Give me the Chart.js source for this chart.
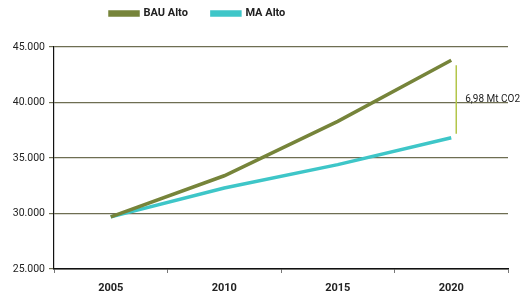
<!DOCTYPE html>
<html>
<head>
<meta charset="utf-8">
<script src="https://cdn.jsdelivr.net/npm/chart.js@4/dist/chart.umd.min.js"></script>
<style>
  html, body { margin: 0; padding: 0; background: #fff; }
  #wrap { width: 527px; height: 297px; }
</style>
</head>
<body>
<div id="wrap"><canvas id="c"></canvas></div>
<script>
const years = ['2005', '2010', '2015', '2020'];
const bauAlto = [29700, 33400, 38300, 43800];
const maAlto = [29700, 32300, 34400, 36820];
const gapLabel = '6,98 Mt CO2';

const olive = '#76843a';
const cyan = '#3ec6c8';

// bracket between the two 2020 values
const gapMarker = {
    id: 'gapMarker',
    afterDatasetsDraw(chart) {
        const { ctx, scales } = chart;
        const last = years.length - 1;
        const x = scales.x.getPixelForValue(last) + 5;
        const yTop = scales.y.getPixelForValue(bauAlto[last]) + 5;
        const yBot = scales.y.getPixelForValue(maAlto[last]) - 4;
        ctx.save();
        ctx.strokeStyle = '#b3c64a';
        ctx.lineWidth = 1.5;
        ctx.beginPath();
        ctx.moveTo(x, yTop);
        ctx.lineTo(x, yBot);
        ctx.stroke();
        ctx.fillStyle = '#222';
        ctx.font = '10px Roboto';
        ctx.textBaseline = 'middle';
        ctx.fillText(gapLabel, x + 9, (yTop + yBot) / 2);
        ctx.restore();
    }
};

// legend sits left of centre and leaves a gap above the plot
const legendTweak = {
    id: 'legendTweak',
    afterInit(chart) {
        const lg = chart.legend;
        const fit = lg.fit;
        lg.fit = function () {
            fit.call(this);
            this.height = 47;
        };
    },
    afterLayout(chart) {
        chart.legend.left = 86;
        chart.legend.top = -16;
    }
};

new Chart(document.getElementById('c'), {
    type: 'line',
    data: {
        labels: years,
        datasets: [
            {
                label: 'BAU Alto',
                data: bauAlto,
                borderColor: olive,
                backgroundColor: olive,
                borderWidth: 3.5,
                pointRadius: 0,
                tension: 0
            },
            {
                label: 'MA Alto',
                data: maAlto,
                borderColor: cyan,
                backgroundColor: cyan,
                borderWidth: 3.5,
                pointRadius: 0,
                tension: 0
            }
        ]
    },
    plugins: [gapMarker, legendTweak],
    options: {
        responsive: true,
        maintainAspectRatio: false,
        animation: false,
        layout: {
            padding: { left: 0, right: 19, top: 0, bottom: 0 }
        },
        plugins: {
            legend: {
                position: 'top',
                align: 'start',
                labels: {
                    boxWidth: 28,
                    boxHeight: 3,
                    padding: 24,
                    color: '#222',
                    font: { family: 'Roboto', size: 11, weight: 'bold' }
                }
            },
            tooltip: { enabled: false }
        },
        scales: {
            x: {
                offset: true,
                afterFit(scale) { scale.height = 28; },
                grid: {
                    display: true,
                    drawOnChartArea: false,
                    offset: true,
                    tickLength: 4,
                    color: '#777'
                },
                border: { color: '#111', width: 1.5 },
                ticks: {
                    padding: 9,
                    color: '#222',
                    font: { family: 'Roboto', size: 11, weight: 'bold' }
                }
            },
            y: {
                min: 25000,
                max: 45000,
                afterFit(scale) { scale.width = 54; },
                grid: {
                    display: true,
                    drawOnChartArea: true,
                    color: '#6e6e52',
                    lineWidth: 1.2,
                    tickLength: 5
                },
                border: { color: '#111', width: 1.2 },
                ticks: {
                    stepSize: 5000,
                    padding: 4,
                    color: '#222',
                    font: { family: 'Roboto', size: 10.5 },
                    callback: v => v.toLocaleString('de-DE', { minimumFractionDigits: 0 })
                }
            }
        }
    }
});
</script>
</body>
</html>
